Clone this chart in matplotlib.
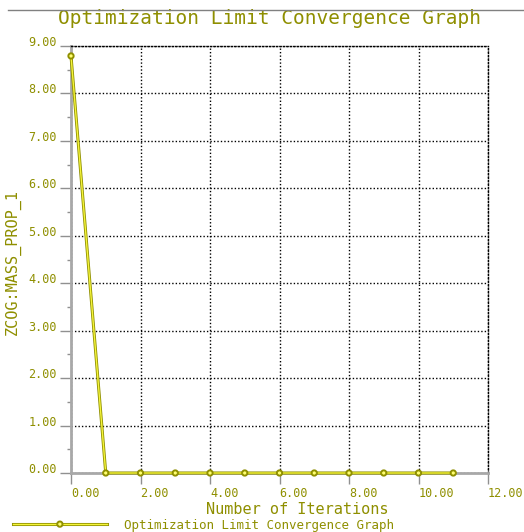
import matplotlib.pyplot as plt
import matplotlib.patheffects as pe
from matplotlib.lines import Line2D

# Datos de la grafica de convergencia
iterations = [0, 1, 2, 3, 4, 5, 6, 7, 8, 9, 10, 11]
zcog_values = [8.79, 0.0, 0.0, 0.0, 0.0, 0.0, 0.0, 0.0, 0.0, 0.0, 0.0, 0.0]

x_ticks = [0, 2, 4, 6, 8, 10, 12]
x_tick_labels = ["0.00", "2.00", "4.00", "6.00", "8.00", "10.00", "12.00"]
y_ticks = [0, 1, 2, 3, 4, 5, 6, 7, 8, 9]
y_tick_labels = ["0.00", "1.00", "2.00", "3.00", "4.00", "5.00", "6.00", "7.00", "8.00", "9.00"]
y_minor = [0.5, 1.5, 2.5, 3.5, 4.5, 5.5, 6.5, 7.5, 8.5]

title = "Optimization Limit Convergence Graph"
series_label = "Optimization Limit Convergence Graph"

OLIVE = "#8f8f00"
YELLOW = "#f4f43a"
MONO = "DejaVu Sans Mono"

fig = plt.figure(figsize=(5.24, 5.32), dpi=100)
ax = fig.add_axes([71 / 524, 59 / 532, 417 / 524, 427 / 532])

ax.plot(iterations, zcog_values, color=YELLOW, lw=1.0, marker="o", ms=3,
        mfc="#ffff70", mec=OLIVE, mew=0.6, label=series_label, zorder=5,
        clip_on=False,
        path_effects=[pe.Stroke(linewidth=2.2, foreground=OLIVE), pe.Normal()])

ax.set_xlim(0, 12)
ax.set_ylim(0, 9)
ax.set_xticks(x_ticks)
ax.set_xticklabels(x_tick_labels)
ax.set_yticks(y_ticks)
ax.set_yticklabels(y_tick_labels)
ax.set_yticks(y_minor, minor=True)

ax.tick_params(axis="both", which="major", direction="out", length=8,
               width=1, color="#909090", labelcolor=OLIVE, labelsize=8.5)
ax.tick_params(axis="y", which="minor", direction="out", length=3,
               width=1, color="#909090")
ax.tick_params(axis="y", pad=2)
ax.tick_params(axis="x", pad=2)
for lab in ax.get_yticklabels():
    lab.set_fontfamily(MONO)
    lab.set_va("baseline")
for lab in ax.get_xticklabels():
    lab.set_fontfamily(MONO)
    lab.set_ha("left")

ax.grid(True, which="major", color="black", linestyle=(0, (1, 1.5)), lw=1)
ax.set_axisbelow(True)

for side in ["left", "bottom"]:
    ax.spines[side].set_color("#a8a8a8")
    ax.spines[side].set_linewidth(2)
for side in ["top", "right"]:
    ax.spines[side].set_color("black")
    ax.spines[side].set_linestyle((0, (1, 1.5)))
    ax.spines[side].set_linewidth(1)

ax.set_xlabel("Number of Iterations", fontsize=11, color=OLIVE, fontfamily=MONO)
ax.xaxis.set_label_coords(0.542, -0.069)
ax.set_ylabel("ZCOG:MASS_PROP_1", fontsize=11, color=OLIVE, fontfamily=MONO)
ax.yaxis.set_label_coords(-0.12, 0.494)

ax.set_title(title, fontsize=14, color=OLIVE, fontfamily=MONO, x=0.475, pad=16)

# linea gris superior
fig.add_artist(Line2D([8 / 524, 1.0], [1 - 10 / 532, 1 - 10 / 532],
                      transform=fig.transFigure, color="#808080", lw=1))

leg = ax.legend(loc="center left", bbox_to_anchor=(13 / 524, 7 / 532),
                bbox_transform=fig.transFigure, frameon=False, borderpad=0,
                borderaxespad=0, handlelength=7.5, handletextpad=1.4,
                numpoints=1, prop={"family": MONO, "size": 9})
for t in leg.get_texts():
    t.set_color(OLIVE)

fig.savefig("out.png", dpi=100)
